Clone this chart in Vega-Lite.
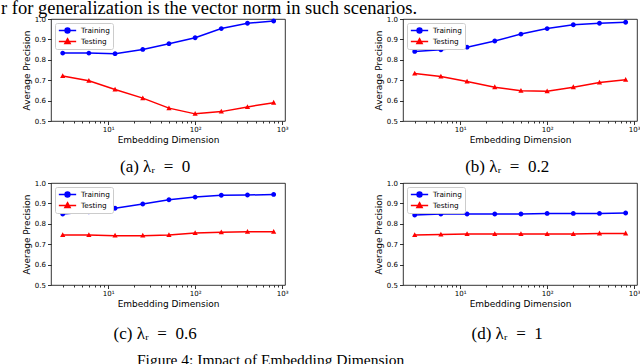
{
  "$schema": "https://vega.github.io/schema/vega-lite/v6.json",
  "background": "white",
  "padding": {"left": 0, "top": -1, "right": 0, "bottom": 0},
  "data": {"values": [
    {"panel": "a", "dim": 3, "Training": 0.833, "Testing": 0.721},
    {"panel": "a", "dim": 6, "Training": 0.833, "Testing": 0.697},
    {"panel": "a", "dim": 12, "Training": 0.830, "Testing": 0.654},
    {"panel": "a", "dim": 25, "Training": 0.851, "Testing": 0.612},
    {"panel": "a", "dim": 50, "Training": 0.879, "Testing": 0.563},
    {"panel": "a", "dim": 100, "Training": 0.908, "Testing": 0.535},
    {"panel": "a", "dim": 200, "Training": 0.953, "Testing": 0.546},
    {"panel": "a", "dim": 400, "Training": 0.979, "Testing": 0.569},
    {"panel": "a", "dim": 800, "Training": 0.990, "Testing": 0.590},
    {"panel": "b", "dim": 3, "Training": 0.841, "Testing": 0.733},
    {"panel": "b", "dim": 6, "Training": 0.849, "Testing": 0.718},
    {"panel": "b", "dim": 12, "Training": 0.862, "Testing": 0.694},
    {"panel": "b", "dim": 25, "Training": 0.892, "Testing": 0.666},
    {"panel": "b", "dim": 50, "Training": 0.926, "Testing": 0.648},
    {"panel": "b", "dim": 100, "Training": 0.953, "Testing": 0.646},
    {"panel": "b", "dim": 200, "Training": 0.972, "Testing": 0.666},
    {"panel": "b", "dim": 400, "Training": 0.979, "Testing": 0.689},
    {"panel": "b", "dim": 800, "Training": 0.984, "Testing": 0.702},
    {"panel": "c", "dim": 3, "Training": 0.848, "Testing": 0.745},
    {"panel": "c", "dim": 6, "Training": 0.859, "Testing": 0.745},
    {"panel": "c", "dim": 12, "Training": 0.876, "Testing": 0.742},
    {"panel": "c", "dim": 25, "Training": 0.897, "Testing": 0.742},
    {"panel": "c", "dim": 50, "Training": 0.918, "Testing": 0.745},
    {"panel": "c", "dim": 100, "Training": 0.931, "Testing": 0.755},
    {"panel": "c", "dim": 200, "Training": 0.940, "Testing": 0.758},
    {"panel": "c", "dim": 400, "Training": 0.941, "Testing": 0.761},
    {"panel": "c", "dim": 800, "Training": 0.944, "Testing": 0.761},
    {"panel": "d", "dim": 3, "Training": 0.843, "Testing": 0.745},
    {"panel": "d", "dim": 6, "Training": 0.848, "Testing": 0.747},
    {"panel": "d", "dim": 12, "Training": 0.848, "Testing": 0.750},
    {"panel": "d", "dim": 25, "Training": 0.848, "Testing": 0.750},
    {"panel": "d", "dim": 50, "Training": 0.848, "Testing": 0.750},
    {"panel": "d", "dim": 100, "Training": 0.851, "Testing": 0.750},
    {"panel": "d", "dim": 200, "Training": 0.851, "Testing": 0.750},
    {"panel": "d", "dim": 400, "Training": 0.851, "Testing": 0.753},
    {"panel": "d", "dim": 800, "Training": 0.853, "Testing": 0.753}
  ]},
  "title": {"text": "r for generalization is the vector norm in such scenarios.", "font": "Liberation Serif", "fontSize": 18.5, "fontWeight": "normal", "color": "black", "anchor": "start", "frame": "bounds", "offset": -3, "dx": -21},
  "resolve": {"scale": {"color": "independent", "shape": "independent"}, "legend": {"color": "independent", "shape": "independent"}},
  "vconcat": [
    {
      "title": {"text": "Figure 4: Impact of Embedding Dimension", "orient": "bottom", "font": "Liberation Serif", "fontSize": 15.5, "fontWeight": "normal", "color": "black", "anchor": "start", "frame": "bounds", "offset": 11, "dx": 115},
      "spacing": 3,
      "resolve": {"scale": {"color": "independent", "shape": "independent"}, "legend": {"color": "independent", "shape": "independent"}},
      "vconcat": [
        {
          "spacing": 84,
          "resolve": {"scale": {"color": "independent", "shape": "independent"}, "legend": {"color": "independent", "shape": "independent"}},
          "hconcat": [
            {
              "width": 234, "height": 102,
              "title": {"text": "(a) λᵣ\u2002=\u20020", "orient": "bottom", "anchor": "middle", "frame": "bounds", "offset": 14},
              "transform": [{"filter": "datum.panel == 'a'"}, {"fold": ["Training", "Testing"], "as": ["series", "ap"]}],
              "encoding": {
                "x": {"field": "dim", "type": "quantitative", "scale": {"type": "log", "domain": [2.2, 1080], "nice": false}, "axis": {"title": "Embedding Dimension", "values": [3,4,5,6,7,8,9,10,20,30,40,50,60,70,80,90,100,200,300,400,500,600,700,800,900,1000], "labelExpr": "datum.value == 10 ? '10¹' : datum.value == 100 ? '10²' : datum.value == 1000 ? '10³' : ''", "tickSize": {"condition": {"test": "datum.value == 10 || datum.value == 100 || datum.value == 1000", "value": 3.5}, "value": 2}, "labelOverlap": false, "labelBound": false, "labelPadding": 1, "titlePadding": 3}},
                "y": {"field": "ap", "type": "quantitative", "scale": {"domain": [0.5, 1.0], "nice": false, "zero": false}, "axis": {"title": "Average Precision", "values": [0.5, 0.6, 0.7, 0.8, 0.9, 1.0], "format": ".1f", "tickSize": 3.5, "labelPadding": 2, "titlePadding": 3}},
                "color": {"field": "series", "type": "nominal", "scale": {"domain": ["Training", "Testing"], "range": ["#0000ff", "#ff0000"]}, "legend": {"title": null}}
              },
              "layer": [
                {"mark": {"type": "line", "strokeWidth": 1.5}},
                {"mark": {"type": "point", "filled": true, "size": 300, "opacity": 1}, "encoding": {"shape": {"field": "series", "type": "nominal", "scale": {"domain": ["Training", "Testing"], "range": ["M-1,0H1M0.28,0A0.28,0.28 0 1 1 -0.28,0A0.28,0.28 0 1 1 0.28,0Z", "M-1,0H1M0,-0.32L0.3,0.23L-0.3,0.23Z"]}, "legend": {"title": null}}}}
              ]
            },
            {
              "width": 234, "height": 102,
              "title": {"text": "(b) λᵣ\u2002=\u20020.2", "orient": "bottom", "anchor": "middle", "frame": "bounds", "offset": 14},
              "transform": [{"filter": "datum.panel == 'b'"}, {"fold": ["Training", "Testing"], "as": ["series", "ap"]}],
              "encoding": {
                "x": {"field": "dim", "type": "quantitative", "scale": {"type": "log", "domain": [2.2, 1080], "nice": false}, "axis": {"title": "Embedding Dimension", "values": [3,4,5,6,7,8,9,10,20,30,40,50,60,70,80,90,100,200,300,400,500,600,700,800,900,1000], "labelExpr": "datum.value == 10 ? '10¹' : datum.value == 100 ? '10²' : datum.value == 1000 ? '10³' : ''", "tickSize": {"condition": {"test": "datum.value == 10 || datum.value == 100 || datum.value == 1000", "value": 3.5}, "value": 2}, "labelOverlap": false, "labelBound": false, "labelPadding": 1, "titlePadding": 3}},
                "y": {"field": "ap", "type": "quantitative", "scale": {"domain": [0.5, 1.0], "nice": false, "zero": false}, "axis": {"title": "Average Precision", "values": [0.5, 0.6, 0.7, 0.8, 0.9, 1.0], "format": ".1f", "tickSize": 3.5, "labelPadding": 2, "titlePadding": 3}},
                "color": {"field": "series", "type": "nominal", "scale": {"domain": ["Training", "Testing"], "range": ["#0000ff", "#ff0000"]}, "legend": {"title": null}}
              },
              "layer": [
                {"mark": {"type": "line", "strokeWidth": 1.5}},
                {"mark": {"type": "point", "filled": true, "size": 300, "opacity": 1}, "encoding": {"shape": {"field": "series", "type": "nominal", "scale": {"domain": ["Training", "Testing"], "range": ["M-1,0H1M0.28,0A0.28,0.28 0 1 1 -0.28,0A0.28,0.28 0 1 1 0.28,0Z", "M-1,0H1M0,-0.32L0.3,0.23L-0.3,0.23Z"]}, "legend": {"title": null}}}}
              ]
            }
          ]
        },
        {
          "spacing": 84,
          "resolve": {"scale": {"color": "independent", "shape": "independent"}, "legend": {"color": "independent", "shape": "independent"}},
          "hconcat": [
            {
              "width": 234, "height": 102,
              "title": {"text": "(c) λᵣ\u2002=\u20020.6", "orient": "bottom", "anchor": "middle", "frame": "bounds", "offset": 17},
              "transform": [{"filter": "datum.panel == 'c'"}, {"fold": ["Training", "Testing"], "as": ["series", "ap"]}],
              "encoding": {
                "x": {"field": "dim", "type": "quantitative", "scale": {"type": "log", "domain": [2.2, 1080], "nice": false}, "axis": {"title": "Embedding Dimension", "values": [3,4,5,6,7,8,9,10,20,30,40,50,60,70,80,90,100,200,300,400,500,600,700,800,900,1000], "labelExpr": "datum.value == 10 ? '10¹' : datum.value == 100 ? '10²' : datum.value == 1000 ? '10³' : ''", "tickSize": {"condition": {"test": "datum.value == 10 || datum.value == 100 || datum.value == 1000", "value": 3.5}, "value": 2}, "labelOverlap": false, "labelBound": false, "labelPadding": 1, "titlePadding": 3}},
                "y": {"field": "ap", "type": "quantitative", "scale": {"domain": [0.5, 1.0], "nice": false, "zero": false}, "axis": {"title": "Average Precision", "values": [0.5, 0.6, 0.7, 0.8, 0.9, 1.0], "format": ".1f", "tickSize": 3.5, "labelPadding": 2, "titlePadding": 3}},
                "color": {"field": "series", "type": "nominal", "scale": {"domain": ["Training", "Testing"], "range": ["#0000ff", "#ff0000"]}, "legend": {"title": null}}
              },
              "layer": [
                {"mark": {"type": "line", "strokeWidth": 1.5}},
                {"mark": {"type": "point", "filled": true, "size": 300, "opacity": 1}, "encoding": {"shape": {"field": "series", "type": "nominal", "scale": {"domain": ["Training", "Testing"], "range": ["M-1,0H1M0.28,0A0.28,0.28 0 1 1 -0.28,0A0.28,0.28 0 1 1 0.28,0Z", "M-1,0H1M0,-0.32L0.3,0.23L-0.3,0.23Z"]}, "legend": {"title": null}}}}
              ]
            },
            {
              "width": 234, "height": 102,
              "title": {"text": "(d) λᵣ\u2002=\u20021", "orient": "bottom", "anchor": "middle", "frame": "bounds", "offset": 17},
              "transform": [{"filter": "datum.panel == 'd'"}, {"fold": ["Training", "Testing"], "as": ["series", "ap"]}],
              "encoding": {
                "x": {"field": "dim", "type": "quantitative", "scale": {"type": "log", "domain": [2.2, 1080], "nice": false}, "axis": {"title": "Embedding Dimension", "values": [3,4,5,6,7,8,9,10,20,30,40,50,60,70,80,90,100,200,300,400,500,600,700,800,900,1000], "labelExpr": "datum.value == 10 ? '10¹' : datum.value == 100 ? '10²' : datum.value == 1000 ? '10³' : ''", "tickSize": {"condition": {"test": "datum.value == 10 || datum.value == 100 || datum.value == 1000", "value": 3.5}, "value": 2}, "labelOverlap": false, "labelBound": false, "labelPadding": 1, "titlePadding": 3}},
                "y": {"field": "ap", "type": "quantitative", "scale": {"domain": [0.5, 1.0], "nice": false, "zero": false}, "axis": {"title": "Average Precision", "values": [0.5, 0.6, 0.7, 0.8, 0.9, 1.0], "format": ".1f", "tickSize": 3.5, "labelPadding": 2, "titlePadding": 3}},
                "color": {"field": "series", "type": "nominal", "scale": {"domain": ["Training", "Testing"], "range": ["#0000ff", "#ff0000"]}, "legend": {"title": null}}
              },
              "layer": [
                {"mark": {"type": "line", "strokeWidth": 1.5}},
                {"mark": {"type": "point", "filled": true, "size": 300, "opacity": 1}, "encoding": {"shape": {"field": "series", "type": "nominal", "scale": {"domain": ["Training", "Testing"], "range": ["M-1,0H1M0.28,0A0.28,0.28 0 1 1 -0.28,0A0.28,0.28 0 1 1 0.28,0Z", "M-1,0H1M0,-0.32L0.3,0.23L-0.3,0.23Z"]}, "legend": {"title": null}}}}
              ]
            }
          ]
        }
      ]
    }
  ],
  "config": {
    "font": "DejaVu Sans",
    "view": {"stroke": "black", "strokeWidth": 0.8},
    "axis": {"grid": false, "domain": false, "tickColor": "black", "tickWidth": 0.8, "labelColor": "black", "labelFontSize": 7, "labelFont": "DejaVu Sans", "titleFont": "DejaVu Sans", "titleFontSize": 9, "titleFontWeight": "normal", "titleColor": "black"},
    "legend": {"orient": "top-left", "offset": 4, "padding": 3, "strokeColor": "#cccccc", "fillColor": "white", "cornerRadius": 2, "labelFont": "DejaVu Sans", "labelFontSize": 7.3, "labelColor": "black", "labelOffset": 4, "rowPadding": 2, "clipHeight": 9, "symbolStrokeWidth": 1.5,
      "symbolSize": 300},
    "title": {"font": "Liberation Serif", "fontSize": 17, "fontWeight": "normal", "color": "black"}
  }
}
